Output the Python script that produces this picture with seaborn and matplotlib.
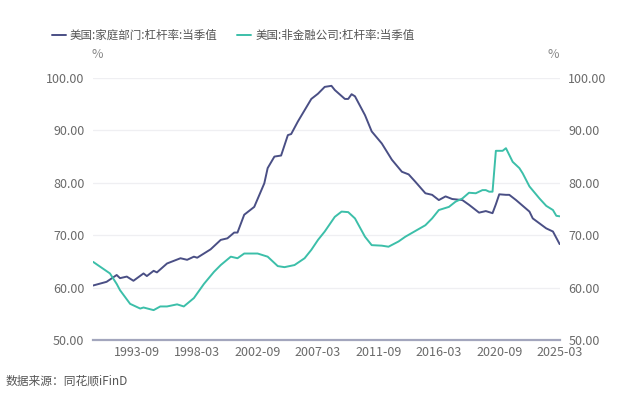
import pandas as pd
import matplotlib.pyplot as plt
import seaborn as sns

# --- data (quarter-end month, value in %) ---
hh_dates = ['1990-06', '1991-06', '1992-03', '1992-06', '1992-12', '1993-06', '1994-03',
            '1994-06', '1994-12', '1995-03', '1995-12', '1996-12', '1997-06', '1997-12',
            '1998-03', '1999-03', '1999-12', '2000-06', '2000-12', '2001-03', '2001-09',
            '2002-06', '2003-03', '2003-06', '2003-12', '2004-06', '2004-12', '2005-03',
            '2005-09', '2006-09', '2007-03', '2007-09', '2008-03', '2008-06', '2009-03',
            '2009-06', '2009-09', '2009-12', '2010-09', '2011-03', '2011-12', '2012-09',
            '2013-06', '2013-12', '2014-06', '2015-03', '2015-09', '2016-03', '2016-09',
            '2017-03', '2017-12', '2018-06', '2018-09', '2019-03', '2019-09', '2020-03',
            '2020-06', '2020-09', '2021-03', '2021-06', '2021-12', '2022-12', '2023-03',
            '2024-03', '2024-09', '2025-03']
hh_values = [60.4, 61.1, 62.4, 61.8, 62.1, 61.3, 62.7,
             62.2, 63.2, 62.9, 64.6, 65.6, 65.3, 65.9,
             65.7, 67.3, 69.1, 69.4, 70.5, 70.5, 73.9,
             75.4, 79.9, 82.8, 85.0, 85.2, 89.1, 89.3,
             91.7, 96.0, 97.0, 98.3, 98.5, 97.7, 96.0,
             96.0, 96.9, 96.5, 92.9, 89.8, 87.5, 84.4,
             82.1, 81.6, 80.2, 78.0, 77.7, 76.7, 77.4,
             76.9, 76.7, 75.8, 75.3, 74.3, 74.6, 74.2,
             75.9, 77.8, 77.7, 77.7, 76.7, 74.5, 73.2,
             71.3, 70.7, 68.3]

nf_dates = ['1990-06', '1991-09', '1992-03', '1992-06', '1993-03', '1993-12', '1994-03',
            '1994-12', '1995-06', '1995-12', '1996-09', '1997-03', '1997-12', '1998-09',
            '1999-06', '1999-12', '2000-09', '2001-03', '2001-09', '2002-09', '2003-06',
            '2004-03', '2004-09', '2005-06', '2006-03', '2006-09', '2007-03', '2007-09',
            '2008-06', '2008-12', '2009-06', '2009-12', '2010-09', '2011-03', '2011-12',
            '2012-06', '2013-03', '2013-09', '2014-06', '2015-03', '2015-09', '2016-03',
            '2016-12', '2017-06', '2017-12', '2018-06', '2018-12', '2019-06', '2019-09',
            '2019-12', '2020-03', '2020-06', '2020-12', '2021-03', '2021-09', '2022-03',
            '2022-06', '2022-12', '2023-09', '2024-03', '2024-09', '2024-12', '2025-03']
nf_values = [64.9, 62.7, 60.7, 59.5, 56.9, 56.0, 56.2,
             55.7, 56.4, 56.4, 56.8, 56.4, 58.0, 60.7,
             63.0, 64.3, 65.9, 65.6, 66.5, 66.5, 65.9,
             64.1, 63.9, 64.3, 65.6, 67.2, 69.1, 70.7,
             73.5, 74.5, 74.4, 73.2, 69.7, 68.1, 68.0,
             67.8, 68.8, 69.7, 70.8, 71.9, 73.2, 74.8,
             75.4, 76.4, 77.0, 78.1, 78.0, 78.6, 78.6,
             78.3, 78.3, 86.1, 86.1, 86.6, 84.0, 82.8,
             81.8, 79.3, 77.0, 75.6, 74.8, 73.7, 73.6]

tick_labels = ['1993-09', '1998-03', '2002-09', '2007-03', '2011-09', '2016-03', '2020-09', '2025-03']
y_ticks = [50, 60, 70, 80, 90, 100]

hh_name = '美国:家庭部门:杠杆率:当季值'
nf_name = '美国:非金融公司:杠杆率:当季值'


def to_date(s):
    return pd.Period(s, freq='M').to_timestamp(how='end').normalize()


hh = pd.DataFrame({'date': [to_date(d) for d in hh_dates], 'value': hh_values})
nf = pd.DataFrame({'date': [to_date(d) for d in nf_dates], 'value': nf_values})

sns.set_theme(style="white")
plt.rcParams['font.family'] = ['Noto Sans CJK SC', 'DejaVu Sans']

hh_color = '#4a4f85'
nf_color = '#3cbfa9'
label_color = '#6a6a6a'

fig = plt.figure(figsize=(6.4, 3.97), dpi=100)
ax = fig.add_axes([0.145, 0.1436, 0.730, 0.660])

sns.lineplot(data=hh, x='date', y='value', color=hh_color, linewidth=1.4, ax=ax, label=hh_name)
sns.lineplot(data=nf, x='date', y='value', color=nf_color, linewidth=1.4, ax=ax, label=nf_name)

ax.set_ylim(50, 100)
ax.set_xlim(hh['date'].iloc[0] - pd.Timedelta(days=10), hh['date'].iloc[-1] + pd.Timedelta(days=10))
ax.set_yticks(y_ticks)
ax.set_yticklabels([f'{v:.2f}' for v in y_ticks])
ax.set_xticks([to_date(t) for t in tick_labels])
ax.set_xticklabels(tick_labels)
ax.set_xlabel('')
ax.set_ylabel('')
ax.grid(axis='y', color='#efeff2', linewidth=0.9)
ax.set_axisbelow(True)
for side in ['top', 'left', 'right']:
    ax.spines[side].set_visible(False)
ax.spines['bottom'].set_color('#a3a6bd')
ax.spines['bottom'].set_linewidth(1.6)
ax.tick_params(axis='both', length=0, labelsize=9, labelcolor=label_color)
ax.tick_params(axis='y', pad=6)
ax.tick_params(axis='x', pad=4)

ax2 = ax.twinx()
ax2.set_ylim(50, 100)
ax2.set_yticks(y_ticks)
ax2.set_yticklabels([f'{v:.2f}' for v in y_ticks])
for side in ['top', 'left', 'right', 'bottom']:
    ax2.spines[side].set_visible(False)
ax2.tick_params(axis='y', length=0, labelsize=9, labelcolor=label_color, pad=6)

fig.text(97 / 640, 1 - 55 / 397, '%', fontsize=9, color='#888888', ha='center', va='center')
fig.text(553 / 640, 1 - 55 / 397, '%', fontsize=9, color='#888888', ha='center', va='center')

leg = ax.legend(loc='upper left', bbox_to_anchor=(52 / 640, 1 - 29 / 397),
                bbox_transform=fig.transFigure, ncol=2, frameon=False,
                borderpad=0, borderaxespad=0,
                fontsize=8.3, handlelength=1.2, handletextpad=0.35, columnspacing=1.7)
for t in leg.get_texts():
    t.set_color('#555555')

fig.text(0.008, 0.03, '数据来源：同花顺iFinD', fontsize=8.5, color='#555555')

plt.savefig('out.png', dpi=100, facecolor='white')
